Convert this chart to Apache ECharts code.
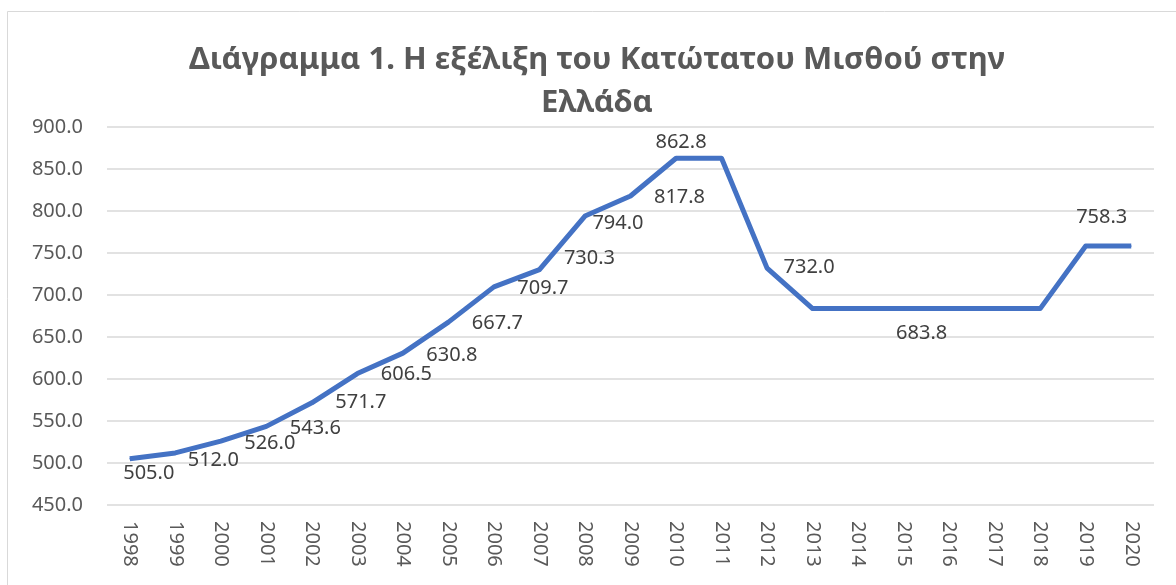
<!DOCTYPE html>
<html>
<head>
<meta charset="utf-8">
<script src="https://cdn.jsdelivr.net/npm/echarts@6/dist/echarts.min.js"></script>
<style>
  html, body { margin: 0; padding: 0; background: #fff; }
  #main { width: 1176px; height: 585px; }
</style>
</head>
<body>
<div id="main"></div>
<script>
// Κατώτατος μισθός ανά έτος
var years = ['1998', '1999', '2000', '2001', '2002', '2003', '2004', '2005', '2006', '2007', '2008', '2009',
  '2010', '2011', '2012', '2013', '2014', '2015', '2016', '2017', '2018', '2019', '2020']
var wage = [505.0, 512.0, 526.0, 543.6, 571.7, 606.5, 630.8, 667.7, 709.7, 730.3, 794.0, 817.8,
  862.8, 862.8, 732.0, 683.8, 683.8, 683.8, 683.8, 683.8, 683.8, 758.3, 758.3]
// which points carry a label (Excel had some hidden)
var showLabel = [1, 1, 1, 1, 1, 1, 1, 1, 1, 1, 1, 1, 1, 0, 1, 0, 0, 1, 0, 0, 0, 1, 0]
var yTicks = [450, 900, 50]

// hand-placed label offsets, like the moved labels in the workbook
var labelOffsets = {
  0: [19, 14], 1: [38, 7], 2: [49, 2], 3: [49, 2], 4: [49, 0], 5: [49, 1], 6: [49, 2],
  7: [49, 1], 8: [49, 1], 9: [50, -11], 10: [33, 7], 11: [49, 1], 12: [5, -16],
  14: [42, -1], 17: [18, 25], 21: [16, -29]
}

var seriesData = wage.map(function (v, i) {
  var item = { value: v }
  if (showLabel[i]) {
    item.label = { show: true, position: 'inside', offset: labelOffsets[i] }
  }
  return item
})

var myChart = echarts.init(document.getElementById('main'))
var option = {
  animation: false,
  backgroundColor: '#fff',
  graphic: [{
    type: 'rect',
    shape: { x: 7.5, y: 11.5, width: 1180, height: 600 },
    style: { fill: 'none', stroke: '#D9D9D9', lineWidth: 1 },
    silent: true
  }],
  title: {
    text: 'Διάγραμμα 1. Η εξέλιξη του Κατώτατου Μισθού στην\nΕλλάδα',
    left: 592,
    top: 34,
    textAlign: 'center',
    textStyle: {
      fontFamily: 'Noto Sans',
      fontWeight: 'bold',
      fontSize: 31,
      lineHeight: 43,
      color: '#595959'
    }
  },
  grid: { left: 107, right: 22, top: 127, bottom: 80, containLabel: false },
  xAxis: {
    type: 'category',
    data: years,
    boundaryGap: true,
    axisLine: { show: false },
    axisTick: { show: false },
    axisLabel: {
      rotate: -90,
      margin: 16,
      fontFamily: 'Noto Sans',
      fontSize: 20,
      color: '#595959'
    }
  },
  yAxis: {
    type: 'value',
    min: yTicks[0],
    max: yTicks[1],
    interval: yTicks[2],
    axisLine: { show: false },
    axisTick: { show: false },
    axisLabel: {
      margin: 24,
      fontFamily: 'Noto Sans',
      fontSize: 20,
      color: '#595959',
      formatter: function (v) { return v.toFixed(1) }
    },
    splitLine: { lineStyle: { color: '#D9D9D9', width: 1.5 } }
  },
  series: [{
    type: 'line',
    data: seriesData,
    symbol: 'circle',
    symbolSize: 1,
    itemStyle: { color: '#4472C4' },
    lineStyle: { color: '#4472C4', width: 5, join: 'round' },
    label: {
      show: false,
      fontFamily: 'Noto Sans',
      fontSize: 20,
      color: '#404040',
      formatter: function (p) { return p.value.toFixed(1) }
    }
  }]
}
myChart.setOption(option)
</script>
</body>
</html>
